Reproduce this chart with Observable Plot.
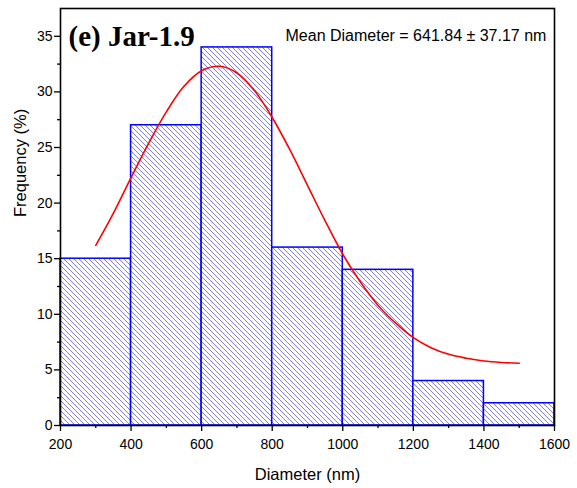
<!DOCTYPE html>
<html>
<head>
<meta charset="utf-8">
<script src="https://cdn.jsdelivr.net/npm/d3@7"></script>
<script src="https://cdn.jsdelivr.net/npm/@observablehq/plot@0.6"></script>
<style>
  html, body { margin: 0; padding: 0; background: #fff; }
  #chart svg { display: block; }
</style>
</head>
<body>
<div id="chart"></div>
<script>
// Histogram bins (nm) and frequencies (%)
const binStart = [200, 400, 600, 800, 1000, 1200, 1400];
const binEnd   = [400, 600, 800, 1000, 1200, 1400, 1600];
const frequency = [15, 27, 34, 16, 14, 4, 2];

// Fitted curve
const curveX = [300, 350, 400, 450, 500, 550, 600, 650, 700, 750, 800, 850, 900, 950, 1000, 1050, 1100, 1150, 1200, 1250, 1300, 1350, 1400, 1450, 1500];
const curveY = [16.2, 19.1, 22.3, 25.4, 28.2, 30.5, 31.9, 32.3, 31.7, 30.1, 27.7, 24.8, 21.6, 18.4, 15.4, 12.9, 10.8, 9.2, 7.9, 7.0, 6.4, 6.05, 5.8, 5.67, 5.6];

const xTicks = [200, 400, 600, 800, 1000, 1200, 1400, 1600];
const xMinor = [300, 500, 700, 900, 1100, 1300, 1500];
const yTicks = [0, 5, 10, 15, 20, 25, 30, 35];
const yMinor = [2.5, 7.5, 12.5, 17.5, 22.5, 27.5, 32.5];

const titleText = "(e) Jar-1.9";
const meanText = "Mean Diameter = 641.84 \u00B1 37.17 nm";
const xLabel = "Diameter (nm)";
const yLabel = "Frequency (%)";

const bins = binStart.map((s, i) => ({x1: s, x2: binEnd[i], y: frequency[i]}));
const curve = curveX.map((x, i) => ({x, y: curveY[i]}));

const patternDefs = () => {
  const ns = "http://www.w3.org/2000/svg";
  const g = document.createElementNS(ns, "defs");
  g.innerHTML = `<pattern id="hatch" patternUnits="userSpaceOnUse" width="5" height="5">
      <rect width="5" height="5" fill="#ffffff"/>
      <path d="M-1,-1 L6,6 M-1,4 L1,6 M4,-1 L6,1" stroke="#7070f0" stroke-width="0.9"/>
    </pattern>`;
  return g;
};

const font = "'Liberation Sans', Arial, sans-serif";

const chart = Plot.plot({
  width: 577,
  height: 488,
  marginLeft: 60,
  marginRight: 23,
  marginTop: 8,
  marginBottom: 63,
  style: {fontFamily: font, fontSize: "14px", color: "#000", background: "#fff"},
  x: {domain: [200, 1600]},
  y: {domain: [0, 37.5]},
  marks: [
    patternDefs,
    Plot.rect(bins, {x1: "x1", x2: "x2", y1: 0, y2: "y", fill: "url(#hatch)", stroke: "#0000ff", strokeWidth: 1.5}),
    Plot.line(curve, {x: "x", y: "y", stroke: "#ff0000", strokeWidth: 1.6, curve: "catmull-rom"}),
    Plot.axisX({ticks: xTicks, tickSize: 6, tickPadding: 8, tickFormat: d => String(d), fontSize: 14, label: null, strokeWidth: 1.3}),
    Plot.axisX({ticks: xMinor, tickSize: 3, tickFormat: () => "", label: null, strokeWidth: 1.3}),
    Plot.axisY({ticks: yTicks, tickSize: 6, tickPadding: 2, tickFormat: d => String(d), fontSize: 14, label: null, strokeWidth: 1.3}),
    Plot.axisY({ticks: yMinor, tickSize: 3, tickFormat: () => "", label: null, strokeWidth: 1.3}),
    Plot.frame({stroke: "#000", strokeWidth: 1.6}),
    Plot.text([titleText], {frameAnchor: "top-left", dx: 8, dy: 37, text: d => d, textAnchor: "start", lineAnchor: "bottom", fontFamily: "'Liberation Serif', 'Times New Roman', serif", fontWeight: "bold", fontSize: 29, fill: "#000"}),
    Plot.text([meanText], {frameAnchor: "top-left", dx: 225, dy: 32, text: d => d, textAnchor: "start", lineAnchor: "bottom", fontSize: 16, fill: "#000"}),
    Plot.text([xLabel], {frameAnchor: "bottom", dy: 49, text: d => d, lineAnchor: "middle", fontSize: 16.5, fill: "#000"}),
    Plot.text([yLabel], {frameAnchor: "left", dx: -40, text: d => d, rotate: -90, lineAnchor: "middle", fontSize: 16.5, fill: "#000"})
  ]
});
document.getElementById("chart").appendChild(chart);
</script>
</body>
</html>
